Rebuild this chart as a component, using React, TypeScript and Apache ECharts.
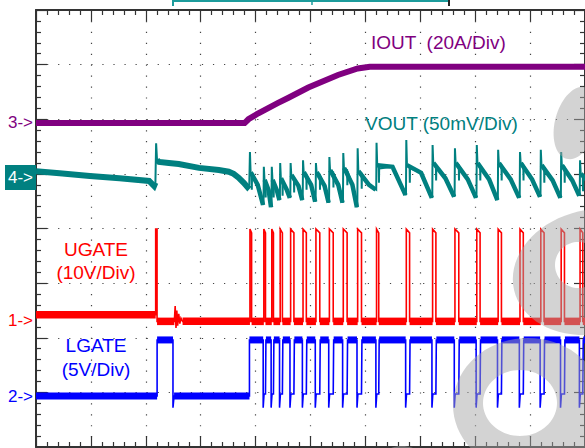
import React, { useEffect, useRef } from "react";
import * as echarts from "echarts";

type Pt = [number, number];

// Time axis in divisions (0..10), amplitude axis in divisions (0..8)
const pulseTimes = [3.897, 4.15, 4.295, 4.448, 4.638, 4.864, 5.099, 5.344, 5.597, 5.859, 6.203, 6.745, 7.224, 7.631, 8.029, 8.418, 8.816, 9.195, 9.566, 9.91];
const pulseWidths = [0.03, 0.03, 0.03, 0.04, 0.06, 0.06, 0.07, 0.07, 0.07, 0.07, 0.04, 0.06, 0.06, 0.07, 0.06, 0.06, 0.06, 0.06, 0.06, 0.05];

// IOUT (20A/Div)
const ioutPoints: Pt[] = [
  [0, 5.93], [3.8, 5.93], [3.87, 6.0], [4.05, 6.11], [4.41, 6.3], [4.59, 6.39],
  [4.96, 6.58], [5.5, 6.81], [5.86, 6.93], [6.08, 6.96], [10, 6.96],
];

// VOUT (50mV/Div)
const voutBefore: Pt[] = [[0, 5.05], [0.43, 5.01], [0.98, 4.96], [1.52, 4.92], [2.06, 4.87], [2.15, 4.78], [2.175, 4.84]];
const voutStepSpike: Pt[] = [[2.188, 5.56]];
const voutAfter: Pt[] = [
  [2.205, 5.25], [2.24, 5.22], [2.42, 5.2], [2.6, 5.18], [2.97, 5.11], [3.33, 5.07],
  [3.51, 5.04], [3.6, 5.0], [3.69, 4.93], [3.78, 4.84], [3.85, 4.76], [3.885, 4.8],
];
const voutPeak = [5.4, 5.13, 5.13, 5.2, 5.2, 5.25, 5.2, 5.31, 5.38, 5.47, 5.57, 5.62, 5.53, 5.47, 5.53, 5.44, 5.4, 5.44, 5.4, 5.25];
const voutAfterSpike = [5.03, 4.89, 4.89, 4.92, 4.98, 5.03, 5.03, 5.07, 5.11, 5.05, 5.16, 5.16, 5.2, 5.2, 5.2, 5.2, 5.2, 5.16, 5.16, 5.0];
const voutMid = [4.8, 4.7, 4.7, 4.72, 4.78, 4.8, 4.78, 4.8, 4.8, 4.8, 5.13, 5.02, 4.92, 4.9, 4.9, 4.9, 4.9, 4.88, 4.88, 4.9];
const voutTrough = [4.43, 4.39, 4.52, 4.56, 4.52, 4.49, 4.47, 4.47, 4.39, 4.71, 4.61, 4.56, 4.58, 4.56, 4.52, 4.56, 4.58, 4.56, 4.6, 4.8];

// UGATE (10V/Div)
const ugateLowBefore = 2.42;
const ugateLowAfter = 2.3;
const ugateHigh = 3.99;
const ugateHighEnd = 3.92;
const ugateFirstSpike = [2.18, 2.205];
const ugateRing: Pt[] = [[2.52, 2.3], [2.535, 2.58], [2.55, 2.18], [2.565, 2.5], [2.58, 2.22], [2.6, 2.44], [2.62, 2.26], [2.64, 2.36], [2.67, 2.3]];

// LGATE (5V/Div)
const lgateLow = 0.934;
const lgateHigh = 1.96;
const lgateDipBottom = 0.72;
const lgateDipShelf = 0.97;
const lgateFirstPulse = [2.206, 2.495];
const lgateOnTime = 3.888;

const FONT = "'Liberation Sans', Arial, sans-serif";

// decorative watermark outline: polygonal ellipse (cw = outer, ccw = hole)
function ellipsePath(cx: number, cy: number, rx: number, ry: number, deg: number, cw: boolean) {
  const a = (deg * Math.PI) / 180;
  const N = 72;
  let d = "";
  for (let k = 0; k <= N; k++) {
    const th = ((cw ? k : -k) / N) * Math.PI * 2;
    const ex = rx * Math.cos(th), ey = ry * Math.sin(th);
    const x = cx + ex * Math.cos(a) - ey * Math.sin(a);
    const y = cy + ex * Math.sin(a) + ey * Math.cos(a);
    d += (k === 0 ? "M" : "L") + x.toFixed(2) + " " + y.toFixed(2);
  }
  return d + "Z";
}

function buildOption() {
  const n = pulseTimes.length;
  const nextOf = (i: number) => (i + 1 < n ? pulseTimes[i + 1] : 10.1);

  // VOUT
  const voutThin: Pt[] = [...voutBefore, ...voutStepSpike, ...voutAfter];
  const voutBandsWide: Pt[][] = [voutBefore, voutAfter];
  const voutBands: Pt[][] = [];
  pulseTimes.forEach((tp, i) => {
    const w = pulseWidths[i];
    const next = nextOf(i);
    const midT = (tp + w + next) / 2;
    voutThin.push(
      [tp, voutPeak[i]],
      [tp + 0.012, voutAfterSpike[i]],
      [tp + w, voutAfterSpike[i] - 0.04],
      [tp + w + 0.004, voutAfterSpike[i] - 0.32],
      [tp + w + 0.008, voutAfterSpike[i] - 0.06],
      [midT, voutMid[i]],
      [next - 0.006, voutTrough[i]]
    );
    voutBands.push([[tp + 0.015, voutAfterSpike[i]], [midT, voutMid[i]], [next - 0.014, voutTrough[i]]]);
  });

  // UGATE
  const ugThin: Pt[] = [
    [0, ugateLowBefore], [ugateFirstSpike[0], ugateLowBefore], [ugateFirstSpike[0], ugateHigh],
    [ugateFirstSpike[1], ugateHigh], [ugateFirstSpike[1], ugateLowAfter], ...ugateRing,
  ];
  const ugBands: Pt[][] = [
    [[0, ugateLowBefore], [ugateFirstSpike[0], ugateLowBefore]],
    [[ugateFirstSpike[1], ugateLowAfter], [ugateRing[0][0], ugateLowAfter]],
    [[ugateRing[ugateRing.length - 1][0], ugateLowAfter], [pulseTimes[0], ugateLowAfter]],
  ];
  pulseTimes.forEach((tp, i) => {
    const w = pulseWidths[i];
    ugThin.push([tp, ugateLowAfter], [tp, ugateHigh], [tp + w, ugateHighEnd], [tp + w, ugateLowAfter]);
    ugBands.push([[tp + w, ugateLowAfter], [Math.min(nextOf(i), 10), ugateLowAfter]]);
  });
  ugThin.push([10, ugateLowAfter]);

  // LGATE
  const lgThin: Pt[] = [
    [0, lgateLow], [lgateFirstPulse[0], lgateLow], [lgateFirstPulse[0], lgateHigh],
    [lgateFirstPulse[1], lgateHigh], [lgateFirstPulse[1], lgateDipBottom],
    [lgateFirstPulse[1] + 0.02, lgateLow], [lgateOnTime, lgateLow], [lgateOnTime, lgateHigh],
  ];
  const lgBands: Pt[][] = [
    [[0, lgateLow], [lgateFirstPulse[0], lgateLow]],
    [[lgateFirstPulse[0], lgateHigh], [lgateFirstPulse[1], lgateHigh]],
    [[lgateFirstPulse[1] + 0.02, lgateLow], [lgateOnTime, lgateLow]],
  ];
  let lgStart = lgateOnTime;
  for (let i = 1; i < n; i++) {
    const tp = pulseTimes[i];
    const w = pulseWidths[i];
    lgBands.push([[lgStart, lgateHigh], [tp - 0.012, lgateHigh]]);
    lgThin.push(
      [tp - 0.012, lgateHigh], [tp - 0.012, lgateDipBottom], [tp + 0.004, lgateDipShelf],
      [tp + w, lgateDipShelf], [tp + w + 0.008, lgateHigh]
    );
    lgStart = tp + w + 0.008;
  }
  lgBands.push([[lgStart, lgateHigh], [10, lgateHigh]]);
  lgThin.push([10, lgateHigh]);

  const axisCommon = (isX: boolean) => ({
    type: "value" as const,
    min: 0,
    max: isX ? 10 : 8,
    interval: 1,
    axisLine: { show: true, onZero: false, lineStyle: { color: "#333", width: 2 } },
    axisTick: { show: true, inside: true, length: 11, lineStyle: { color: "#333", width: 1.2 } },
    minorTick: { show: true, splitNumber: 5, length: 5, lineStyle: { color: "#333", width: 1.2 } },
    axisLabel: { show: false },
  });

  const lineS = (data: Pt[], color: string, width: number) => ({
    type: "line",
    data,
    showSymbol: false,
    symbol: "none",
    silent: true,
    lineStyle: { color, width, cap: "butt", join: "miter" },
  });
  const bandS = (segs: Pt[][], color: string, width: number) => ({
    type: "lines",
    coordinateSystem: "cartesian2d",
    polyline: true,
    silent: true,
    data: segs.map((c) => ({ coords: c })),
    lineStyle: { color, width, opacity: 1, curveness: 0 },
  });

  const wmPath =
    ellipsePath(576, 123, 37, 21, -75, true) +
    ellipsePath(592, 272, 80, 62, -13, true) +
    ellipsePath(578, 265, 23, 23, 0, false) +
    ellipsePath(528, 405, 75, 67, 0, true) +
    ellipsePath(520, 403, 37, 33, 0, false) +
    ellipsePath(402, 476, 30, 30, 0, true);
  echarts.graphic.registerShape("watermark", (echarts.graphic as any).extendPath(wmPath, {}));

  const txt = (text: string, x: number, y: number, fill: string, size: number, align = "left") => ({
    type: "text",
    x,
    y,
    z: 50,
    style: { text, fill, font: `${size}px ${FONT}`, textAlign: align, textVerticalAlign: "middle" },
  });

  return {
    animation: false,
    backgroundColor: "#ffffff",
    grid: { left: 36, top: 10, width: 553, height: 437, containLabel: false },
    xAxis: [
      {
        ...axisCommon(true),
        position: "bottom",
        splitLine: { show: true, lineStyle: { color: "#444", width: 1.2, type: [1.2, 9.725] } },
      },
      { ...axisCommon(true), position: "top", splitLine: { show: false } },
    ],
    yAxis: [
      {
        ...axisCommon(false),
        position: "left",
        splitLine: { show: true, lineStyle: { color: "#444", width: 1.2, type: [1.2, 9.86] } },
      },
      { ...axisCommon(false), position: "right", splitLine: { show: false } },
    ],
    series: [
      lineS(ioutPoints, "#800080", 6),
      bandS(voutBandsWide, "#008080", 6),
      bandS(voutBands, "#008080", 4.5),
      lineS(voutThin, "#008080", 2),
      bandS(ugBands, "#ff0000", 7.5),
      lineS(ugThin, "#ff0000", 1.6),
      bandS(lgBands, "#0000ff", 7),
      lineS(lgThin, "#0000ff", 1.6),
    ],
    graphic: [
      // memory position bar at the top
      { type: "line", z: 50, shape: { x1: 173, y1: 1, x2: 449, y2: 1 }, style: { stroke: "#1d9c9c", lineWidth: 2 } },
      { type: "line", z: 50, shape: { x1: 173, y1: 0, x2: 173, y2: 6 }, style: { stroke: "#1d9c9c", lineWidth: 2 } },
      { type: "line", z: 50, shape: { x1: 312, y1: 0, x2: 312, y2: 5 }, style: { stroke: "#1d9c9c", lineWidth: 1.5 } },
      { type: "line", z: 50, shape: { x1: 449, y1: 0, x2: 449, y2: 6 }, style: { stroke: "#222", lineWidth: 2 } },
      // channel markers
      txt("3->", 33, 122, "#800080", 17, "right"),
      { type: "rect", z: 50, shape: { x: 5, y: 165, width: 31, height: 25 }, style: { fill: "#008080" } },
      txt("4->", 33, 177.5, "#ffffff", 17, "right"),
      txt("1->", 33, 320, "#ff0000", 17, "right"),
      txt("2->", 33, 396, "#0000ff", 17, "right"),
      // trace labels
      txt("IOUT  (20A/Div)", 371, 42, "#800080", 19),
      txt("VOUT (50mV/Div)", 365, 123, "#008080", 19),
      txt("UGATE", 96, 249, "#ff0000", 19, "center"),
      txt("(10V/Div)", 96, 272.5, "#ff0000", 19, "center"),
      txt("LGATE", 96, 345.5, "#0000ff", 19, "center"),
      txt("(5V/Div)", 96, 369.5, "#0000ff", 19, "center"),
      // watermark
      { type: "watermark", x: 0, y: 0, z: 100, silent: true, style: { fill: "rgba(165,165,165,0.49)" } },
    ],
  };
}

export default function App() {
  const ref = useRef<HTMLDivElement>(null);
  useEffect(() => {
    if (!ref.current) return;
    const chart = echarts.init(ref.current, undefined, { renderer: "svg" });
    chart.setOption(buildOption() as any);
    return () => chart.dispose();
  }, []);
  return (
    <div
      ref={ref}
      style={{ position: "fixed", left: 0, top: 0, width: 585, height: 448, background: "#fff" }}
    />
  );
}
